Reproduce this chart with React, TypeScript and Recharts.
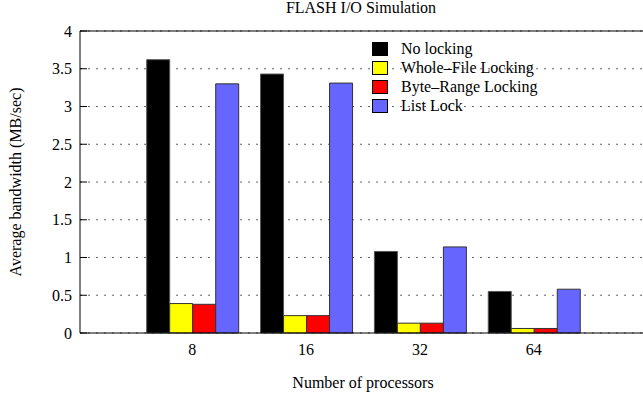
import { BarChart, Bar, XAxis, YAxis, CartesianGrid, Legend } from "recharts"

const processors = ["8", "16", "32", "64"]
const noLocking = [3.62, 3.43, 1.08, 0.55]
const wholeFileLocking = [0.39, 0.23, 0.13, 0.06]
const byteRangeLocking = [0.38, 0.23, 0.13, 0.06]
const listLock = [3.3, 3.31, 1.14, 0.58]
const yTicks = [0, 0.5, 1, 1.5, 2, 2.5, 3, 3.5, 4]
const seriesNames = ["No locking", "Whole–File Locking", "Byte–Range Locking", "List Lock"]

const serif = '"Liberation Serif", "Times New Roman", serif'

const chartData = processors.map((p, i) => ({
  n: p,
  noLocking: noLocking[i],
  wholeFile: wholeFileLocking[i],
  byteRange: byteRangeLocking[i],
  listLock: listLock[i],
}))

// gnuplot-style key: box on the left, text on the right, no frame
const KeyContent = ({ payload }: any) => {
  const items = [...(payload || [])].sort(
    (a: any, b: any) => seriesNames.indexOf(a.value) - seriesNames.indexOf(b.value)
  )
  return (
    <div style={{ fontFamily: serif, fontSize: 16, color: "#000" }}>
      {items.map((entry: any) => (
        <div key={entry.value} style={{ display: "flex", alignItems: "center", height: 18.9 }}>
          <div
            style={{
              width: 16,
              height: 14,
              boxSizing: "border-box",
              border: "1px solid #000",
              background: entry.color,
              marginRight: 13,
            }}
          />
          <span style={{ lineHeight: "16px", whiteSpace: "nowrap" }}>{entry.value}</span>
        </div>
      ))}
    </div>
  )
}

const YTitle = ({ viewBox }: any) => {
  const cx = viewBox.x + 15
  const cy = viewBox.y + viewBox.height / 2
  return (
    <text
      x={cx}
      y={cy}
      transform={`rotate(-90, ${cx}, ${cy})`}
      textAnchor="middle"
      dominantBaseline="central"
      fontFamily={serif}
      fontSize={16}
      fill="#000"
    >
      Average bandwidth (MB/sec)
    </text>
  )
}

const pad = { left: 55.3, right: 55.3 }

export default function App() {
  return (
    <div
      style={{
        position: "absolute",
        left: 0,
        top: 0,
        width: 643,
        height: 398,
        overflow: "hidden",
        background: "#fff",
        fontFamily: serif,
      }}
    >
      <div
        style={{
          position: "absolute",
          left: 0,
          top: 0,
          width: 722,
          textAlign: "center",
          fontSize: 16,
          lineHeight: "16px",
          color: "#000",
        }}
      >
        FLASH I/O Simulation
      </div>
      <BarChart
        width={660}
        height={398}
        data={chartData}
        margin={{ top: 21, right: 14, bottom: 35, left: 0 }}
        barCategoryGap={11.4}
        barGap={0}
      >
        <CartesianGrid horizontal vertical={false} stroke="#666" strokeDasharray="2 6" />
        <XAxis
          dataKey="n"
          padding={pad}
          tickLine={false}
          tickSize={6}
          tickMargin={5}
          axisLine={{ stroke: "#000" }}
          tick={{ fill: "#000", fontSize: 16, fontFamily: serif }}
          label={{
            value: "Number of processors",
            position: "bottom",
            offset: 14,
            fill: "#000",
            fontSize: 16,
            fontFamily: serif,
          }}
        />
        <XAxis
          xAxisId="top"
          orientation="top"
          dataKey="n"
          height={10}
          padding={pad}
          tick={false}
          tickSize={-7}
          axisLine={{ stroke: "#000" }}
          tickLine={{ stroke: "#000" }}
        />
        <YAxis
          domain={[0, 4]}
          ticks={yTicks}
          interval={0}
          width={80}
          tickSize={-7}
          tickMargin={15}
          axisLine={{ stroke: "#000" }}
          tickLine={{ stroke: "#000" }}
          tick={{ fill: "#000", fontSize: 16, fontFamily: serif }}
          label={<YTitle />}
        />
        <Legend
          layout="vertical"
          align="center"
          verticalAlign="middle"
          content={<KeyContent />}
          wrapperStyle={{ left: 372, top: 40, width: 200 }}
        />
        <Bar dataKey="noLocking" name={seriesNames[0]} fill="#000000" stroke="#555" strokeWidth={1} isAnimationActive={false} />
        <Bar dataKey="wholeFile" name={seriesNames[1]} fill="#ffff00" stroke="#333" strokeWidth={1} isAnimationActive={false} />
        <Bar dataKey="byteRange" name={seriesNames[2]} fill="#ff0000" stroke="#333" strokeWidth={1} isAnimationActive={false} />
        <Bar dataKey="listLock" name={seriesNames[3]} fill="#6666ff" stroke="#333" strokeWidth={1} isAnimationActive={false} />
      </BarChart>
    </div>
  )
}
